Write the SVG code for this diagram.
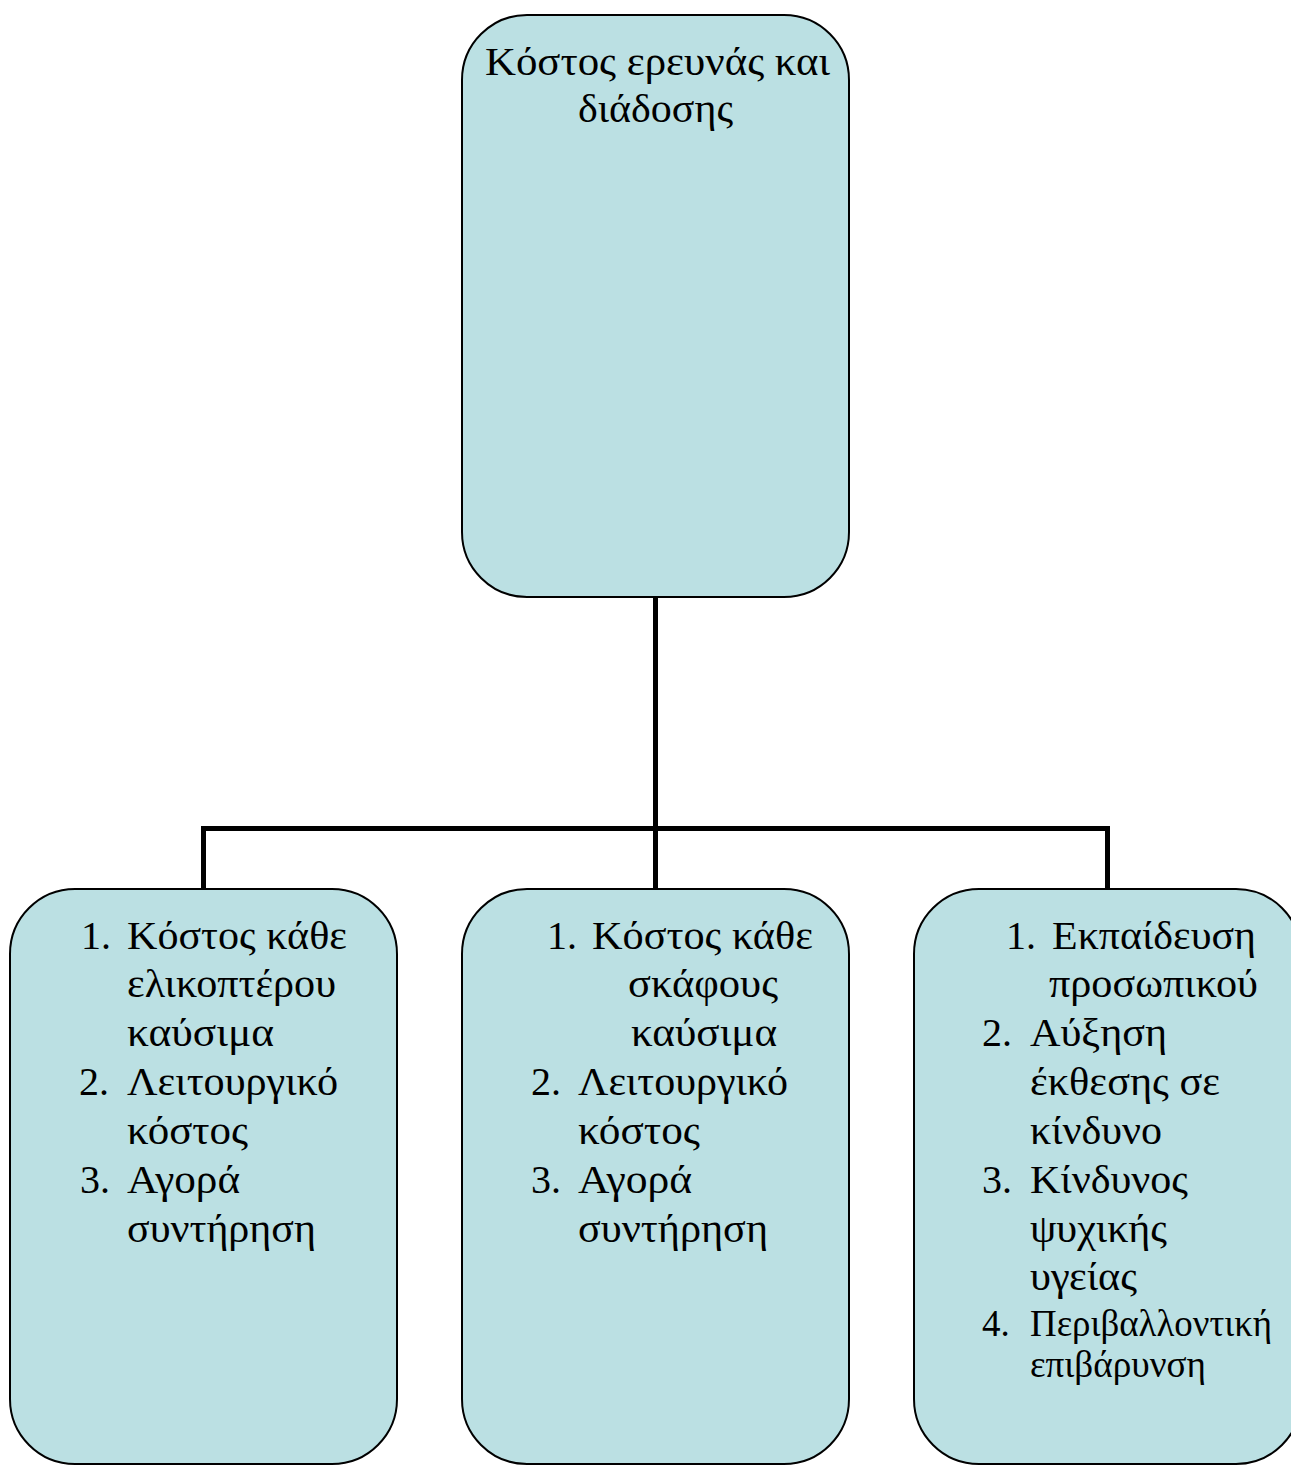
<svg xmlns="http://www.w3.org/2000/svg" width="1291" height="1465" viewBox="0 0 1291 1465">
<style>
.box{fill:#BBE0E3;stroke:#000;stroke-width:2}
.conn{fill:none;stroke:#000;stroke-width:5;stroke-linejoin:miter}
text{font-family:"Liberation Serif","Times New Roman",serif;font-size:40px;fill:#000}
.sm{font-size:37px}
</style>
<rect width="1291" height="1465" fill="#fff"/>
<g id="connectors">
<path class="conn" d="M655.5,597 V889 M203.5,889 V828.5 H1107.5 V889"/>
</g>
<g id="top">
<rect class="box" x="462" y="15" width="387" height="582" rx="65" ry="65"/>
<text x="485" y="75" textLength="345" lengthAdjust="spacingAndGlyphs">Κόστος ερευνάς και</text>
<text x="578" y="122" textLength="155" lengthAdjust="spacingAndGlyphs">διάδοσης</text>
</g>
<g id="left">
<rect class="box" x="10" y="889" width="387" height="575" rx="65" ry="65"/>
<text x="81" y="949">1.</text><text x="127" y="949" textLength="220" lengthAdjust="spacingAndGlyphs">Κόστος κάθε</text>
<text x="127" y="997" textLength="209" lengthAdjust="spacingAndGlyphs">ελικοπτέρου</text>
<text x="127" y="1046" textLength="147" lengthAdjust="spacingAndGlyphs">καύσιμα</text>
<text x="79" y="1095">2.</text><text x="127" y="1095" textLength="211" lengthAdjust="spacingAndGlyphs">Λειτουργικό</text>
<text x="127" y="1144" textLength="121" lengthAdjust="spacingAndGlyphs">κόστος</text>
<text x="80" y="1193">3.</text><text x="127" y="1193" textLength="113" lengthAdjust="spacingAndGlyphs">Αγορά</text>
<text x="127" y="1242" textLength="189" lengthAdjust="spacingAndGlyphs">συντήρηση</text>
</g>
<g id="middle">
<rect class="box" x="462" y="889" width="387" height="575" rx="65" ry="65"/>
<text x="547" y="949">1.</text><text x="592" y="949" textLength="221" lengthAdjust="spacingAndGlyphs">Κόστος κάθε</text>
<text x="628" y="997" textLength="150" lengthAdjust="spacingAndGlyphs">σκάφους</text>
<text x="631" y="1046" textLength="146" lengthAdjust="spacingAndGlyphs">καύσιμα</text>
<text x="531" y="1095">2.</text><text x="578" y="1095" textLength="210" lengthAdjust="spacingAndGlyphs">Λειτουργικό</text>
<text x="578" y="1144" textLength="122" lengthAdjust="spacingAndGlyphs">κόστος</text>
<text x="531" y="1193">3.</text><text x="578" y="1193" textLength="114" lengthAdjust="spacingAndGlyphs">Αγορά</text>
<text x="578" y="1242" textLength="190" lengthAdjust="spacingAndGlyphs">συντήρηση</text>
</g>
<g id="right">
<rect class="box" x="914" y="889" width="387" height="575" rx="65" ry="65"/>
<text x="1006" y="949">1.</text><text x="1052" y="949" textLength="204" lengthAdjust="spacingAndGlyphs">Εκπαίδευση</text>
<text x="1049" y="997" textLength="209" lengthAdjust="spacingAndGlyphs">προσωπικού</text>
<text x="982" y="1046">2.</text><text x="1030" y="1046" textLength="137" lengthAdjust="spacingAndGlyphs">Αύξηση</text>
<text x="1030" y="1095" textLength="190" lengthAdjust="spacingAndGlyphs">έκθεσης σε</text>
<text x="1030" y="1144" textLength="132" lengthAdjust="spacingAndGlyphs">κίνδυνο</text>
<text x="982" y="1193">3.</text><text x="1030" y="1193" textLength="158" lengthAdjust="spacingAndGlyphs">Κίνδυνος</text>
<text x="1030" y="1242" textLength="137" lengthAdjust="spacingAndGlyphs">ψυχικής</text>
<text x="1030" y="1290" textLength="107" lengthAdjust="spacingAndGlyphs">υγείας</text>
<text class="sm" x="982" y="1336">4.</text><text class="sm" x="1030" y="1336" textLength="242" lengthAdjust="spacingAndGlyphs">Περιβαλλοντική</text>
<text class="sm" x="1030" y="1377" textLength="176" lengthAdjust="spacingAndGlyphs">επιβάρυνση</text>
</g>
</svg>
